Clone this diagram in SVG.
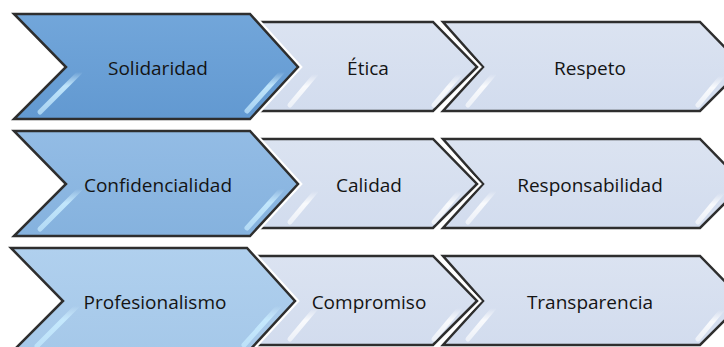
<svg xmlns="http://www.w3.org/2000/svg" width="724" height="347" viewBox="0 0 724 347">
  <defs>
    <linearGradient id="g1" x1="0" y1="0" x2="0" y2="1">
      <stop offset="0" stop-color="#72a6da"/>
      <stop offset="1" stop-color="#6299d1"/>
    </linearGradient>
    <linearGradient id="g2" x1="0" y1="0" x2="0" y2="1">
      <stop offset="0" stop-color="#93bce5"/>
      <stop offset="1" stop-color="#85b2de"/>
    </linearGradient>
    <linearGradient id="g3" x1="0" y1="0" x2="0" y2="1">
      <stop offset="0" stop-color="#b0d0ee"/>
      <stop offset="1" stop-color="#a5c8e9"/>
    </linearGradient>
    <linearGradient id="gs" x1="0" y1="0" x2="0" y2="1">
      <stop offset="0" stop-color="#dbe3f1"/>
      <stop offset="1" stop-color="#d2dcee"/>
    </linearGradient>
    <linearGradient id="hb" x1="0" y1="0" x2="0" y2="1">
      <stop offset="0" stop-color="#d8f2ff" stop-opacity="0"/>
      <stop offset="0.35" stop-color="#c8ecff" stop-opacity="0.9"/>
      <stop offset="1" stop-color="#c8ecff" stop-opacity="0.7"/>
    </linearGradient>
    <linearGradient id="hw" x1="0" y1="0" x2="0" y2="1">
      <stop offset="0" stop-color="#ffffff" stop-opacity="0"/>
      <stop offset="0.4" stop-color="#ffffff" stop-opacity="0.85"/>
      <stop offset="1" stop-color="#ffffff" stop-opacity="0.6"/>
    </linearGradient>
    <polygon id="big" points="14,14 250,14 298,67 250,119 14,119 66,67"/>
    <polygon id="sm1" points="255,22 433,22 477,67 433,111 255,111 294,67"/>
    <polygon id="sm2" points="443,22 700,22 744,67 700,111 443,111 483,67"/>
  </defs>
  <style>
    .halo { fill: none; stroke: #ffffff; stroke-width: 7; stroke-linejoin: miter; }
    .edge { stroke: #2e2e2e; stroke-width: 2.5; stroke-linejoin: miter; }
    .hlb { fill: none; stroke: url(#hb); stroke-width: 5; stroke-linecap: round; }
    .hlw { fill: none; stroke: url(#hw); stroke-width: 5; stroke-linecap: round; }
    .lbl { font-family: "Open Sans", "Noto Sans", "DejaVu Sans", sans-serif; font-size: 19px; fill: #141414; text-anchor: middle; }
  </style>
  <rect width="724" height="347" fill="#ffffff"/>

  <!-- Row 1 -->
  <g id="row1">
    <g id="respeto">
      <use href="#sm2" class="halo"/>
      <use href="#sm2" class="edge" fill="url(#gs)"/>
      <polyline class="hlw" points="494,74 468,105"/>
      <polyline class="hlw" points="722,76 698,105"/>
      <text class="lbl" x="590" y="75">Respeto</text>
    </g>
    <g id="etica">
      <use href="#sm1" class="halo"/>
      <use href="#sm1" class="edge" fill="url(#gs)"/>
      <polyline class="hlw" points="316,74 290,105"/>
      <polyline class="hlw" points="460,74 434,105"/>
      <text class="lbl" x="368" y="75">Ética</text>
    </g>
    <g id="solidaridad">
      <use href="#big" class="halo"/>
      <use href="#big" class="edge" fill="url(#g1)"/>
      <polyline class="hlb" points="80,72 40,112"/>
      <polyline class="hlb" points="282,72 247,111"/>
      <text class="lbl" x="158" y="75">Solidaridad</text>
    </g>
  </g>

  <!-- Row 2 -->
  <g id="row2" transform="translate(0,117)">
    <g id="responsabilidad">
      <use href="#sm2" class="halo"/>
      <use href="#sm2" class="edge" fill="url(#gs)"/>
      <polyline class="hlw" points="494,74 468,105"/>
      <polyline class="hlw" points="722,76 698,105"/>
      <text class="lbl" x="590" y="75">Responsabilidad</text>
    </g>
    <g id="calidad">
      <use href="#sm1" class="halo"/>
      <use href="#sm1" class="edge" fill="url(#gs)"/>
      <polyline class="hlw" points="316,74 290,105"/>
      <polyline class="hlw" points="460,74 434,105"/>
      <text class="lbl" x="369" y="75">Calidad</text>
    </g>
    <g id="confidencialidad">
      <use href="#big" class="halo"/>
      <use href="#big" class="edge" fill="url(#g2)"/>
      <polyline class="hlb" points="80,72 40,112"/>
      <polyline class="hlb" points="282,72 247,111"/>
      <text class="lbl" x="158" y="75">Confidencialidad</text>
    </g>
  </g>

  <!-- Row 3 -->
  <g id="row3" transform="translate(0,234)">
    <g id="transparencia">
      <use href="#sm2" class="halo"/>
      <use href="#sm2" class="edge" fill="url(#gs)"/>
      <polyline class="hlw" points="494,74 468,105"/>
      <polyline class="hlw" points="722,76 698,105"/>
      <text class="lbl" x="590" y="75">Transparencia</text>
    </g>
    <g id="compromiso">
      <use href="#sm1" class="halo"/>
      <use href="#sm1" class="edge" fill="url(#gs)"/>
      <polyline class="hlw" points="316,74 290,105"/>
      <polyline class="hlw" points="460,74 434,105"/>
      <text class="lbl" x="369" y="75">Compromiso</text>
    </g>
    <g id="profesionalismo" transform="translate(-3,0)">
      <use href="#big" class="halo"/>
      <use href="#big" class="edge" fill="url(#g3)"/>
      <polyline class="hlb" points="80,72 40,112"/>
      <polyline class="hlb" points="282,72 247,111"/>
      <text class="lbl" x="158" y="75">Profesionalismo</text>
    </g>
  </g>
</svg>
